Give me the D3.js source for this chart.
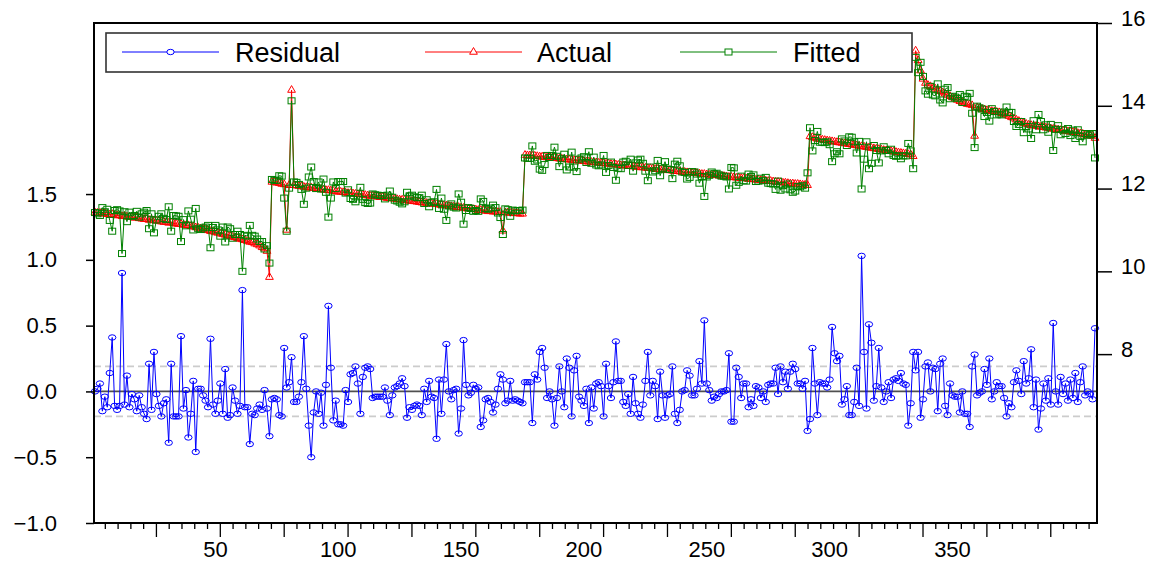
<!DOCTYPE html>
<html>
<head>
<meta charset="utf-8">
<script src="https://cdn.jsdelivr.net/npm/d3@7"></script>
<style>
  html, body { margin: 0; padding: 0; background: #ffffff; }
  svg { display: block; font-family: "Liberation Sans", Arial, sans-serif; }
</style>
</head>
<body>
<svg id="chart" width="1157" height="563"></svg>
<script>
// Residual (left axis), Actual and Fitted (right axis), one value per observation
const residual = [
  0.00,0.02,0.06,-0.15,-0.04,-0.12,0.14,0.41,-0.11,-0.14,-0.11,0.90,-0.10,0.12,-0.12,-0.02,-0.06,-0.15,-0.03,-0.12,
  -0.17,-0.21,0.21,-0.14,0.30,-0.02,-0.11,-0.19,-0.09,-0.06,-0.39,0.21,-0.19,-0.19,-0.19,0.42,-0.13,0.01,-0.35,-0.17,
  0.08,-0.46,0.02,0.02,-0.03,-0.07,-0.12,0.40,-0.10,-0.17,-0.07,0.06,-0.17,0.17,-0.20,-0.18,0.03,-0.07,-0.17,-0.11,
  0.77,-0.12,-0.12,-0.40,-0.17,-0.18,-0.13,-0.10,-0.14,0.01,-0.13,-0.34,-0.06,-0.05,-0.06,-0.18,-0.19,0.33,0.03,0.07,
  0.26,-0.08,-0.08,-0.04,0.07,0.42,0.02,-0.26,-0.50,-0.16,0.00,-0.17,-0.01,-0.26,0.05,0.65,0.18,-0.22,-0.07,-0.25,
  -0.25,-0.26,0.01,-0.08,0.13,0.14,0.19,0.06,-0.17,0.11,0.18,0.19,0.17,-0.05,-0.04,-0.04,-0.04,-0.04,0.03,-0.07,
  -0.18,-0.03,0.03,0.04,0.06,0.10,0.04,-0.20,-0.12,-0.14,-0.11,-0.10,-0.11,-0.18,0.02,-0.08,0.08,-0.04,-0.05,-0.36,
  0.09,-0.17,0.09,0.36,0.00,-0.06,0.01,0.02,-0.32,-0.13,0.39,0.05,-0.03,-0.01,0.05,0.02,0.03,-0.27,-0.22,-0.06,
  -0.05,-0.08,-0.16,-0.10,0.02,0.13,0.09,-0.09,-0.07,0.08,-0.07,-0.06,-0.07,-0.08,-0.09,0.07,0.07,0.07,-0.24,0.13,
  0.09,0.30,0.33,0.18,-0.05,0.00,-0.06,-0.26,-0.05,0.19,0.00,-0.12,0.25,0.18,-0.19,0.16,0.27,-0.04,-0.07,-0.11,
  0.02,-0.24,0.03,-0.13,0.06,0.07,0.04,-0.19,0.21,0.04,-0.05,0.07,0.38,0.08,0.08,-0.08,-0.11,-0.02,-0.17,0.11,
  -0.09,-0.17,-0.20,-0.10,0.08,0.30,-0.03,0.08,0.04,-0.21,0.15,-0.03,-0.20,-0.03,-0.02,0.19,-0.17,-0.24,-0.14,0.00,
  0.01,0.16,0.12,-0.03,-0.03,0.02,0.23,0.06,0.54,0.06,0.01,-0.07,-0.04,-0.05,-0.02,0.00,0.00,0.01,0.29,-0.23,
  -0.23,0.18,0.11,-0.05,0.06,0.06,-0.12,-0.06,-0.11,0.04,0.03,-0.05,0.00,-0.08,0.05,0.06,0.06,0.18,-0.02,0.19,
  0.07,0.15,0.02,0.15,0.21,0.17,0.06,0.06,0.02,0.08,-0.30,-0.21,0.33,0.06,-0.18,0.07,0.06,0.06,0.03,0.09,
  0.49,0.29,0.23,0.27,-0.10,-0.06,0.04,-0.18,-0.18,-0.08,0.18,-0.11,1.03,0.30,-0.13,0.51,0.37,-0.07,0.04,0.33,
  0.03,-0.08,0.00,0.07,-0.05,0.09,0.10,0.08,0.14,0.06,0.05,-0.26,-0.09,0.30,0.16,0.30,-0.20,-0.06,0.19,0.22,
  0.00,0.18,0.17,-0.15,0.21,0.25,-0.11,-0.18,0.06,-0.03,-0.04,-0.04,-0.16,0.00,-0.17,-0.17,-0.27,0.19,0.28,-0.03,
  -0.01,0.00,0.17,0.05,0.25,-0.06,0.00,0.07,0.04,0.04,-0.05,-0.19,-0.09,-0.12,0.07,0.16,0.08,-0.02,0.23,0.06,
  0.10,0.32,-0.12,0.09,-0.29,-0.13,0.06,-0.07,0.10,-0.10,0.52,0.00,-0.10,0.11,-0.02,0.06,-0.07,0.09,-0.05,0.14,
  -0.08,0.07,0.19,-0.03,0.00,-0.02,-0.06,0.48
];

const actual = [
  11.42,11.41,11.41,11.39,11.40,11.38,11.37,11.38,11.36,11.35,11.35,11.33,11.34,11.32,11.31,11.31,11.29,11.30,11.28,11.27,
  11.26,11.26,11.24,11.25,11.23,11.22,11.22,11.20,11.19,11.19,11.17,11.18,11.16,11.15,11.14,11.14,11.12,11.11,11.11,11.09,
  11.08,11.06,11.05,11.03,11.02,11.00,10.99,10.97,10.96,10.94,10.93,10.91,10.90,10.88,10.87,10.85,10.83,10.82,10.80,10.78,
  10.77,10.75,10.73,10.71,10.70,10.67,10.65,10.62,10.58,10.55,10.49,9.86,12.16,12.15,12.14,12.13,12.11,12.10,11.00,12.08,
  14.38,12.08,12.07,12.06,12.05,12.04,12.03,12.02,12.02,12.01,12.00,11.99,11.98,11.97,11.96,11.96,11.95,11.94,11.93,11.92,
  11.92,11.91,11.90,11.89,11.89,11.88,11.87,11.86,11.86,11.85,11.84,11.83,11.82,11.82,11.81,11.80,11.79,11.79,11.78,11.77,
  11.76,11.76,11.75,11.74,11.73,11.73,11.72,11.71,11.70,11.70,11.69,11.68,11.67,11.66,11.66,11.65,11.64,11.63,11.63,11.62,
  11.61,11.60,11.59,11.59,11.58,11.57,11.56,11.55,11.55,11.54,11.53,11.52,11.51,11.51,11.50,11.49,11.48,11.48,11.47,11.46,
  11.45,11.45,11.44,11.44,11.43,11.43,10.98,11.42,11.42,11.41,11.41,11.40,11.40,11.39,11.39,12.81,12.80,12.80,12.79,12.79,
  12.78,12.77,12.77,12.76,12.75,12.75,12.74,12.74,12.73,12.72,12.72,12.71,12.70,12.70,12.69,12.68,12.68,12.67,12.67,12.66,
  12.65,12.65,12.64,12.63,12.63,12.62,12.61,12.61,12.60,12.60,12.59,12.58,12.58,12.57,12.56,12.56,12.55,12.54,12.54,12.53,
  12.53,12.52,12.51,12.51,12.50,12.49,12.49,12.48,12.47,12.47,12.46,12.46,12.45,12.44,12.44,12.43,12.42,12.42,12.41,12.40,
  12.40,12.39,12.39,12.38,12.37,12.37,12.36,12.35,12.35,12.34,12.33,12.33,12.32,12.32,12.31,12.30,12.30,12.29,12.28,12.28,
  12.27,12.26,12.26,12.25,12.25,12.24,12.23,12.23,12.22,12.21,12.21,12.20,12.19,12.19,12.18,12.18,12.17,12.16,12.16,12.15,
  12.14,12.14,12.13,12.12,12.12,12.11,12.11,12.10,12.09,12.09,12.08,13.26,13.24,13.22,13.20,13.19,13.18,13.17,13.16,13.15,
  13.14,13.13,13.12,13.11,13.10,13.09,13.08,13.07,13.06,13.05,13.04,13.03,13.02,13.01,13.00,12.99,12.98,12.97,12.96,12.95,
  12.94,12.93,12.92,12.91,12.90,12.89,12.88,12.87,12.86,12.85,12.84,12.83,12.82,12.78,15.33,15.10,14.85,14.65,14.55,14.50,
  14.47,14.44,14.41,14.38,14.35,14.32,14.29,14.26,14.23,14.20,14.17,14.14,14.11,14.08,14.06,14.04,14.03,14.01,13.27,13.96,
  13.94,13.92,13.91,13.89,13.88,13.87,13.86,13.85,13.84,13.82,13.80,13.78,13.75,13.72,13.69,13.66,13.63,13.60,13.58,13.56,
  13.54,13.53,13.52,13.51,13.50,13.49,13.48,13.47,13.46,13.45,13.44,13.43,13.42,13.41,13.40,13.39,13.38,13.37,13.36,13.35,
  13.34,13.33,13.32,13.30,13.29,13.28,13.27,13.22
];

const fitted = [
  11.42,11.39,11.35,11.54,11.44,11.50,11.23,10.97,11.47,11.49,11.46,10.43,11.44,11.20,11.43,11.33,11.35,11.45,11.31,11.39,
  11.43,11.47,11.03,11.39,10.93,11.24,11.33,11.39,11.28,11.25,11.56,10.97,11.35,11.34,11.33,10.72,11.25,11.10,11.46,11.26,
  11.00,11.52,11.03,11.01,11.05,11.07,11.11,10.57,11.06,11.11,11.00,10.85,11.07,10.71,11.07,11.03,10.80,10.89,10.97,10.89,
  10.00,10.87,10.85,11.11,10.87,10.85,10.78,10.72,10.72,10.54,10.62,10.20,12.22,12.20,12.20,12.31,12.30,11.77,10.97,12.01,
  14.12,12.16,12.15,12.10,11.98,11.62,12.01,12.28,12.52,12.17,12.00,12.16,11.99,12.23,11.91,11.31,11.77,12.16,12.00,12.17,
  12.17,12.17,11.89,11.97,11.76,11.74,11.68,11.80,12.03,11.74,11.66,11.64,11.65,11.87,11.85,11.84,11.83,11.83,11.75,11.84,
  11.94,11.79,11.72,11.70,11.67,11.63,11.68,11.91,11.82,11.84,11.80,11.78,11.78,11.84,11.64,11.73,11.56,11.67,11.68,11.98,
  11.52,11.77,11.50,11.23,11.58,11.63,11.55,11.53,11.87,11.67,11.14,11.47,11.54,11.52,11.45,11.47,11.45,11.75,11.69,11.52,
  11.50,11.53,11.60,11.54,11.41,11.30,10.89,11.51,11.49,11.33,11.48,11.46,11.47,11.47,11.48,12.74,12.73,12.73,13.03,12.66,
  12.69,12.47,12.44,12.58,12.80,12.75,12.80,13.00,12.78,12.53,12.72,12.83,12.45,12.52,12.88,12.52,12.41,12.71,12.74,12.77,
  12.63,12.89,12.61,12.76,12.57,12.55,12.57,12.80,12.39,12.56,12.64,12.51,12.20,12.49,12.48,12.64,12.66,12.56,12.71,12.42,
  12.62,12.69,12.71,12.61,12.42,12.19,12.52,12.40,12.43,12.68,12.31,12.49,12.65,12.47,12.46,12.24,12.59,12.66,12.55,12.40,
  12.39,12.23,12.27,12.41,12.40,12.35,12.13,12.29,11.81,12.28,12.32,12.40,12.36,12.37,12.33,12.30,12.30,12.28,11.99,12.51,
  12.50,12.08,12.15,12.30,12.19,12.18,12.35,12.29,12.33,12.17,12.18,12.25,12.19,12.27,12.13,12.12,12.11,11.98,12.18,11.96,
  12.07,11.99,12.11,11.97,11.91,11.94,12.05,12.04,12.07,12.01,12.38,13.47,12.91,13.16,13.38,13.12,13.12,13.11,13.13,13.06,
  12.65,12.84,12.89,12.84,13.20,13.15,13.04,13.25,13.24,13.13,12.86,13.14,11.99,12.71,13.13,12.48,12.61,13.04,12.92,12.62,
  12.91,13.01,12.92,12.84,12.95,12.80,12.78,12.79,12.72,12.79,12.79,13.09,12.91,12.48,15.17,14.80,15.05,14.71,14.36,14.28,
  14.47,14.26,14.24,14.53,14.14,14.07,14.40,14.44,14.17,14.23,14.21,14.18,14.27,14.08,14.23,14.21,14.30,13.82,12.99,13.99,
  13.95,13.92,13.74,13.84,13.63,13.93,13.86,13.78,13.80,13.78,13.85,13.97,13.84,13.84,13.62,13.50,13.55,13.62,13.35,13.50,
  13.44,13.21,13.64,13.42,13.79,13.62,13.42,13.54,13.36,13.55,12.92,13.43,13.52,13.30,13.42,13.33,13.45,13.28,13.41,13.21,
  13.42,13.26,13.13,13.33,13.29,13.30,13.33,12.74
];

const obs = d3.range(1, residual.length + 1);

// Axis ticks and labels
const leftTicks = [-1.0, -0.5, 0.0, 0.5, 1.0, 1.5];
const rightTicks = [8, 10, 12, 14, 16];
const bottomLabels = [50, 100, 150, 200, 250, 300, 350];
const residualSE = 0.19;   // +/- one standard error band around zero

const seriesNames = ["Residual", "Actual", "Fitted"];
const seriesColors = ["#0000ff", "#ff0000", "#008000"];

// ---- layout ----
const frame = { left: 94, right: 1097, top: 23, bottom: 523 };
const font = 22;

const svg = d3.select("#chart");

const x = d3.scaleLinear().domain([1, obs.length]).range([95, 1095]);
const yL = d3.scaleLinear().domain([-1.0, 2.8]).range([frame.bottom, frame.top]);
const yR = d3.scaleLinear().domain([3.92, 16]).range([frame.bottom, frame.top]);

// zero line and standard-error band
svg.append("line")
  .attr("x1", frame.left).attr("x2", frame.right)
  .attr("y1", yL(0)).attr("y2", yL(0))
  .attr("stroke", "#505050").attr("stroke-width", 1.8);

[residualSE, -residualSE].forEach(v => {
  svg.append("line")
    .attr("x1", frame.left).attr("x2", frame.right)
    .attr("y1", yL(v)).attr("y2", yL(v))
    .attr("stroke", "#cccccc").attr("stroke-width", 1.8)
    .attr("stroke-dasharray", "7,4");
});

// residual series
const gRes = svg.append("g");
gRes.append("path")
  .datum(obs)
  .attr("fill", "none").attr("stroke", seriesColors[0]).attr("stroke-width", 1)
  .attr("d", d3.line().x(i => x(i)).y(i => yL(residual[i - 1])));
gRes.selectAll("ellipse").data(obs).join("ellipse")
  .attr("cx", i => x(i)).attr("cy", i => yL(residual[i - 1]))
  .attr("rx", 3.7).attr("ry", 2.7)
  .attr("fill", "none").attr("stroke", seriesColors[0]).attr("stroke-width", 1);

// actual series
const tri = d3.symbol().type(d3.symbolTriangle).size(26);
const gAct = svg.append("g");
gAct.append("path")
  .datum(obs)
  .attr("fill", "none").attr("stroke", seriesColors[1]).attr("stroke-width", 1)
  .attr("d", d3.line().x(i => x(i)).y(i => yR(actual[i - 1])));
gAct.selectAll("path.m").data(obs).join("path")
  .attr("class", "m")
  .attr("transform", i => `translate(${x(i)},${yR(actual[i - 1])})`)
  .attr("d", tri)
  .attr("fill", "none").attr("stroke", seriesColors[1]).attr("stroke-width", 1);

// fitted series
const gFit = svg.append("g");
gFit.append("path")
  .datum(obs)
  .attr("fill", "none").attr("stroke", seriesColors[2]).attr("stroke-width", 1)
  .attr("d", d3.line().x(i => x(i)).y(i => yR(fitted[i - 1])));
gFit.selectAll("rect").data(obs).join("rect")
  .attr("x", i => x(i) - 3.5).attr("y", i => yR(fitted[i - 1]) - 3)
  .attr("width", 7).attr("height", 6)
  .attr("fill", "none").attr("stroke", seriesColors[2]).attr("stroke-width", 1);

// frame
svg.append("rect")
  .attr("x", frame.left).attr("y", frame.top)
  .attr("width", frame.right - frame.left).attr("height", frame.bottom - frame.top)
  .attr("fill", "none").attr("stroke", "#000").attr("stroke-width", 2);

// left axis (residual)
const axL = svg.append("g").attr("transform", `translate(${frame.left},0)`)
  .call(d3.axisLeft(yL).tickValues(leftTicks).tickFormat(d3.format(".1f"))
    .tickSize(8).tickPadding(29).tickSizeOuter(0));
axL.select(".domain").remove();
axL.selectAll("line").attr("stroke", "#000").attr("stroke-width", 1.5);
axL.selectAll("text").attr("font-size", font).attr("fill", "#000")
  .attr("font-family", "Liberation Sans, Arial, sans-serif");

// right axis (actual / fitted)
const axR = svg.append("g").attr("transform", `translate(${frame.right},0)`)
  .call(d3.axisRight(yR).tickValues(rightTicks).tickFormat(d3.format("d"))
    .tickSize(15).tickPadding(9).tickSizeOuter(0));
axR.select(".domain").remove();
axR.selectAll("line").attr("stroke", "#000").attr("stroke-width", 1.5);
axR.selectAll("text").attr("font-size", font).attr("fill", "#000").attr("dy", "0.11em")
  .attr("font-family", "Liberation Sans, Arial, sans-serif");

// bottom axis: minor ticks every 5.2 observations, long tick every fifth
const tickObs = d3.range(1, 79).map(k => ({ v: k * 5.2, major: k % 5 === 0 }));
svg.append("g").selectAll("line").data(tickObs).join("line")
  .attr("x1", d => x(d.v)).attr("x2", d => x(d.v))
  .attr("y1", frame.bottom).attr("y2", d => frame.bottom + (d.major ? 14 : 6))
  .attr("stroke", "#000").attr("stroke-width", 1.3);
svg.append("g").selectAll("text").data(bottomLabels).join("text")
  .attr("x", d => x(d)).attr("y", 557)
  .attr("text-anchor", "middle").attr("font-size", font).attr("fill", "#000")
  .text(d => d);

// legend
const legendLayout = [
  { line: [122, 219], text: 235 },
  { line: [425, 522], text: 537 },
  { line: [680, 777], text: 793 }
];
const legY = 52;
const leg = svg.append("g");
leg.append("rect")
  .attr("x", 106).attr("y", 33).attr("width", 806).attr("height", 39)
  .attr("fill", "#fff").attr("stroke", "#333").attr("stroke-width", 1.6);
seriesNames.forEach((name, k) => {
  const L = legendLayout[k];
  const mid = (L.line[0] + L.line[1]) / 2;
  leg.append("line")
    .attr("x1", L.line[0]).attr("x2", L.line[1]).attr("y1", legY).attr("y2", legY)
    .attr("stroke", seriesColors[k]).attr("stroke-width", 1);
  if (k === 0) {
    leg.append("ellipse").attr("cx", mid).attr("cy", legY).attr("rx", 3.7).attr("ry", 2.7)
      .attr("fill", "#fff").attr("stroke", seriesColors[k]);
  } else if (k === 1) {
    leg.append("path").attr("transform", `translate(${mid},${legY})`).attr("d", tri)
      .attr("fill", "#fff").attr("stroke", seriesColors[k]);
  } else {
    leg.append("rect").attr("x", mid - 3.5).attr("y", legY - 3).attr("width", 7).attr("height", 6)
      .attr("fill", "#fff").attr("stroke", seriesColors[k]);
  }
  leg.append("text")
    .attr("x", L.text).attr("y", legY + 10)
    .attr("font-size", 27).attr("fill", "#000")
    .text(name);
});
</script>
</body>
</html>
